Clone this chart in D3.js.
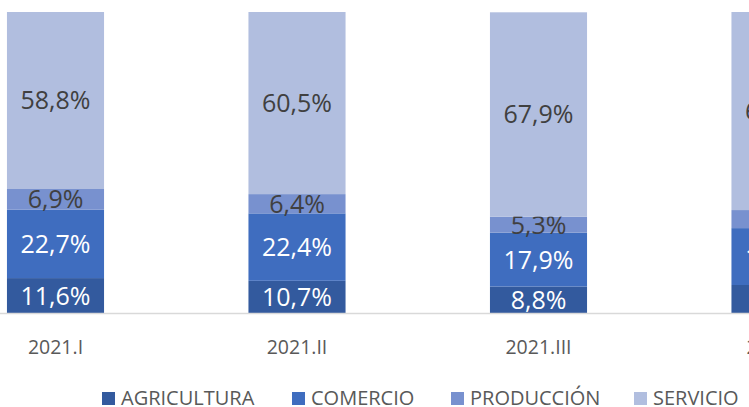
<!DOCTYPE html>
<html>
<head>
<meta charset="utf-8">
<script src="https://cdn.jsdelivr.net/npm/d3@7"></script>
<style>
  html, body { margin: 0; padding: 0; background: #fff; }
  svg { display: block; font-family: "Open Sans", sans-serif; }
</style>
</head>
<body>
<svg id="chart" width="749" height="407"></svg>
<script>
// periods on the x axis
var periods = ["2021.I", "2021.II", "2021.III", "2021.IV"];
// sector shares, percent
var agricultura = [11.6, 10.7, 8.8, 9.3];
var comercio = [22.7, 22.4, 17.9, 18.9];
var produccion = [6.9, 6.4, 5.3, 6.0];
var servicio = [58.8, 60.5, 67.9, 65.8];
var seriesNames = ["AGRICULTURA", "COMERCIO", "PRODUCCIÓN", "SERVICIO"];

var colors = ["#335a9e", "#3f6dbf", "#7891cf", "#b1bedf"];
var labelColors = ["#ffffff", "#ffffff", "#404040", "#404040"];

var svg = d3.select("#chart");
var width = 749;

var rows = periods.map(function(p, i) {
  return {
    period: p,
    AGRICULTURA: agricultura[i],
    COMERCIO: comercio[i],
    "PRODUCCIÓN": produccion[i],
    SERVICIO: servicio[i]
  };
});

var stacked = d3.stack().keys(seriesNames)(rows);

var x = d3.scaleBand()
  .domain(periods)
  .range([-65.25, 900.75])
  .paddingInner(0.598)
  .paddingOuter(0.299);

var y = d3.scaleLinear()
  .domain([0, 100])
  .range([313, 12]);

// bars
var layers = svg.selectAll("g.layer")
  .data(stacked)
  .enter()
  .append("g")
  .attr("class", "layer")
  .attr("fill", (d, i) => colors[i]);

layers.selectAll("rect")
  .data(d => d)
  .enter()
  .append("rect")
  .attr("x", d => x(d.data.period))
  .attr("width", x.bandwidth())
  .attr("y", d => y(d[1]))
  .attr("height", d => y(d[0]) - y(d[1]));

// baseline
svg.append("line")
  .attr("x1", 0)
  .attr("x2", width)
  .attr("y1", y(0) + 0.5)
  .attr("y2", y(0) + 0.5)
  .attr("stroke", "#d9d9d9")
  .attr("stroke-width", 1.5);

// data labels
layers.each(function(layer, li) {
  d3.select(this).selectAll("text")
    .data(layer)
    .enter()
    .append("text")
    .attr("x", d => x(d.data.period) + x.bandwidth() / 2)
    .attr("y", d => (y(d[0]) + y(d[1])) / 2)
    .attr("dy", "0.36em")
    .attr("text-anchor", "middle")
    .attr("font-size", 25)
    .attr("fill", labelColors[li])
    .text(d => (d[1] - d[0]).toFixed(1).replace(".", ",") + "%");
});

// x axis
var xAxis = d3.axisBottom(x).tickSize(0).tickPadding(0);
var gx = svg.append("g")
  .attr("transform", "translate(0," + 346.5 + ")")
  .call(xAxis);
gx.select(".domain").remove();
gx.selectAll("text")
  .attr("dy", "0.36em")
  .attr("font-family", "Open Sans, sans-serif")
  .attr("font-size", 19.5)
  .attr("fill", "#595959");

// legend
var legend = svg.append("g").attr("class", "legend");
var items = legend.selectAll("g")
  .data(seriesNames)
  .enter()
  .append("g");

items.append("rect")
  .attr("width", 13)
  .attr("height", 13)
  .attr("y", -5.5)
  .attr("fill", (d, i) => colors[i]);

items.append("text")
  .attr("x", 19)
  .attr("dy", "0.36em")
  .attr("font-size", 20)
  .attr("fill", "#595959")
  .text(d => d);

var legendX = [102, 292, 451, 634];
items.attr("transform", (d, i) => "translate(" + legendX[i] + ",397.5)");
</script>
</body>
</html>
